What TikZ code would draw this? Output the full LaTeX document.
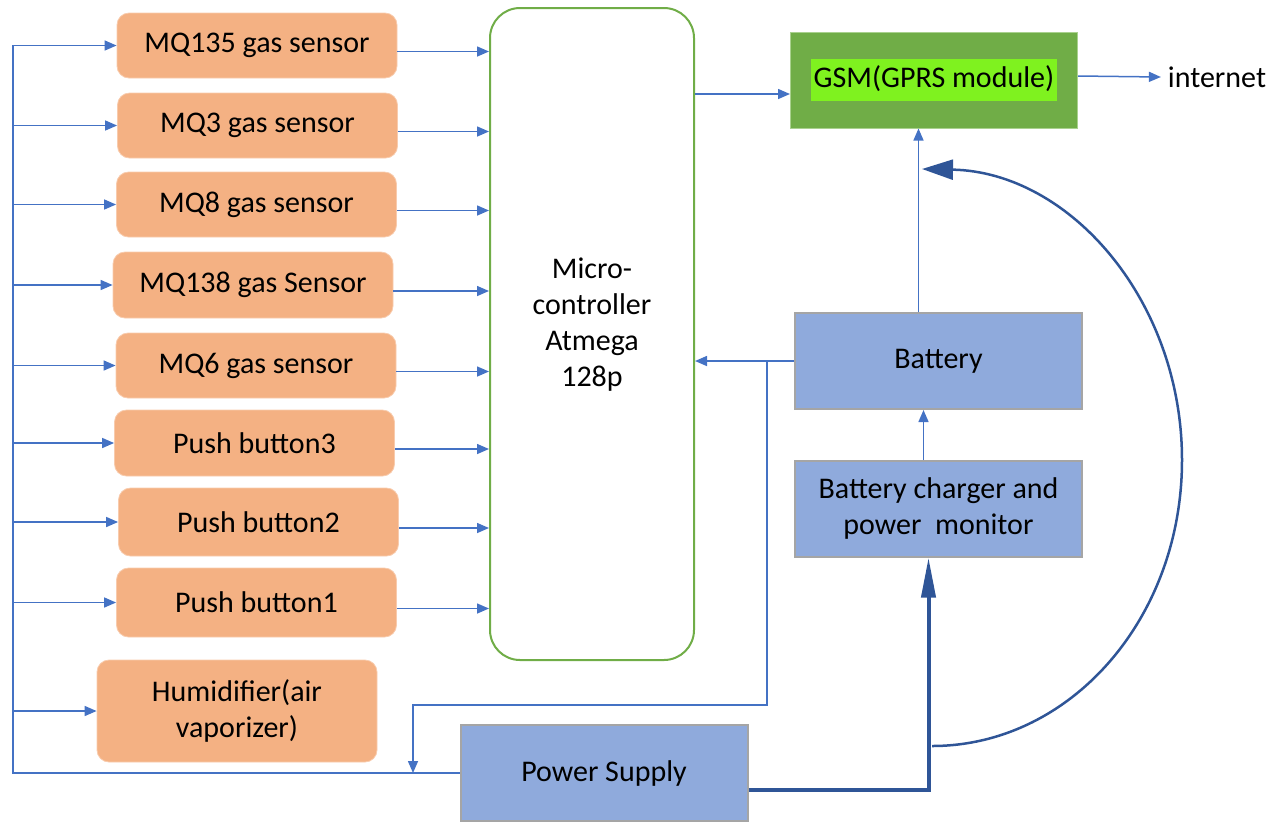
\documentclass[tikz,border=0pt]{standalone}
\usepackage{fontspec}
\setmainfont{Carlito}
\usetikzlibrary{arrows.meta, positioning}
\definecolor{sensfill}{HTML}{F4B183}
\definecolor{sensline}{HTML}{F8CBAD}
\definecolor{wire}{HTML}{4472C4}
\definecolor{pwrblue}{HTML}{2F5597}
\definecolor{boxblue}{HTML}{8FAADC}
\definecolor{boxline}{HTML}{A5A5A5}
\definecolor{gsmgreen}{HTML}{70AD47}
\definecolor{gsmline}{HTML}{A9D18E}
\definecolor{hilite}{HTML}{7FF21F}
\setlength{\fboxsep}{1.5pt}

\begin{document}
\begin{tikzpicture}[x=0.5pt, y=-0.5pt,
        sens/.style = {draw=sensline, fill=sensfill, rounded corners=6pt, minimum width=140pt, minimum height=32.5pt, inner sep=0pt, font={\fontsize{15}{18}\selectfont}},
        blk/.style  = {draw=boxline, line width=1pt, fill=boxblue, minimum width=143.5pt, minimum height=48pt, inner sep=0pt, align=center, font={\fontsize{15}{18}\selectfont}},
        mcubox/.style = {draw=gsmgreen, line width=1pt, fill=white, rounded corners=15pt, minimum width=102pt, minimum height=326pt, align=center, font={\fontsize{15}{18}\selectfont}},
        ar/.style   = {-{Triangle[length=6pt, width=5pt]}, wire, line width=0.75pt},
        ln/.style   = {wire, line width=0.75pt},
        pwr/.style  = {-{Triangle[length=20pt, width=7pt]}, pwrblue, line width=2pt},
        arc/.style  = {-{Triangle[length=15.5pt, width=10pt]}, pwrblue, line width=1.25pt}
    ]
        \useasboundingbox (0,0) rectangle (1281,821);

        \node[sens] (mq135) at (257,45.5)  {MQ135 gas sensor};
        \node[sens] (mq3)   at (257.5,125.5) {MQ3 gas sensor};
        \node[sens] (mq8)   at (256.5,204.5) {MQ8 gas sensor};
        \node[sens, minimum height=33pt] (mq138) at (253,285) {MQ138 gas Sensor};
        \node[sens] (mq6)   at (256,365.5) {MQ6 gas sensor};
        \node[sens, minimum height=33pt] (pb3) at (254.5,443) {Push button3};
        \node[sens, minimum height=34pt] (pb2) at (258.5,522) {Push button2};
        \node[sens, minimum height=34.5pt] (pb1) at (256.5,602.5) {Push button1};
        \node[sens, minimum height=51pt, align=center] (hum) at (237,711) {Humidifier(air\\vaporizer)};

        \node[mcubox] (mcu) at (592,334) {Micro-\\controller\\Atmega\\128p\\[-6pt]\mbox{}};

        \node[blk, draw=gsmline, line width=0.5pt, fill=gsmgreen] (gsm) at (934,80) {\colorbox{hilite}{\strut GSM(GPRS module)}};
        \node[font={\fontsize{15}{18}\selectfont}] (net) at (1217,77) {internet};
        \node[blk] (bat) at (938.5,361)   {Battery};
        \node[blk] (chg) at (938.5,508.5) {Battery charger and\\power\ \ monitor};
        \node[blk] (ps)  at (604,773)     {Power Supply};

        \coordinate (bus)  at (13,45);
        \coordinate (tap)  at (767,361);
        \coordinate (drop) at (413,773);
        \coordinate (arcs) at (932,746);
        \coordinate (arcm) at (1182,460);
        \coordinate (arce) at (922,169);

        \draw[ln] (bus) |- (ps.west);
        \foreach \n in {mq135,mq3,mq8,mq138,mq6,pb3,pb2,pb1,hum}
            \draw[ar] (bus |- \n.west) -- (\n.west);
        \foreach \n in {mq135,mq3,mq8,mq138,mq6,pb3,pb2,pb1}
            \draw[ar] ([yshift=-3pt]\n.east) -- ([yshift=-3pt]\n.east -| mcu.west);

        \draw[ar] ([yshift=-7pt]gsm.west -| mcu.east) -- ([yshift=-7pt]gsm.west);
        \draw[ar] ([yshift=2pt]gsm.east) -- (net.west);
        \draw[ar] (bat.west) -- (bat.west -| mcu.east);
        \draw[ar] (tap) -- ++(0,344) -| (drop);
        \draw[ar] ([xshift=-10pt]bat.north) -- ([xshift=-10pt]bat.north |- gsm.south);
        \draw[ar] ([xshift=-7.5pt]chg.north) -- ([xshift=-7.5pt]chg.north |- bat.south);

        \draw[pwr] ([yshift=-8.5pt]ps.east) -| ([xshift=-5pt]chg.south);
        \draw[arc] (arcs) .. controls (1070,746) and (1182,619) .. (arcm)
                          .. controls (1182,301) and (1070,172) .. (arce);
    \end{tikzpicture}
\end{document}
